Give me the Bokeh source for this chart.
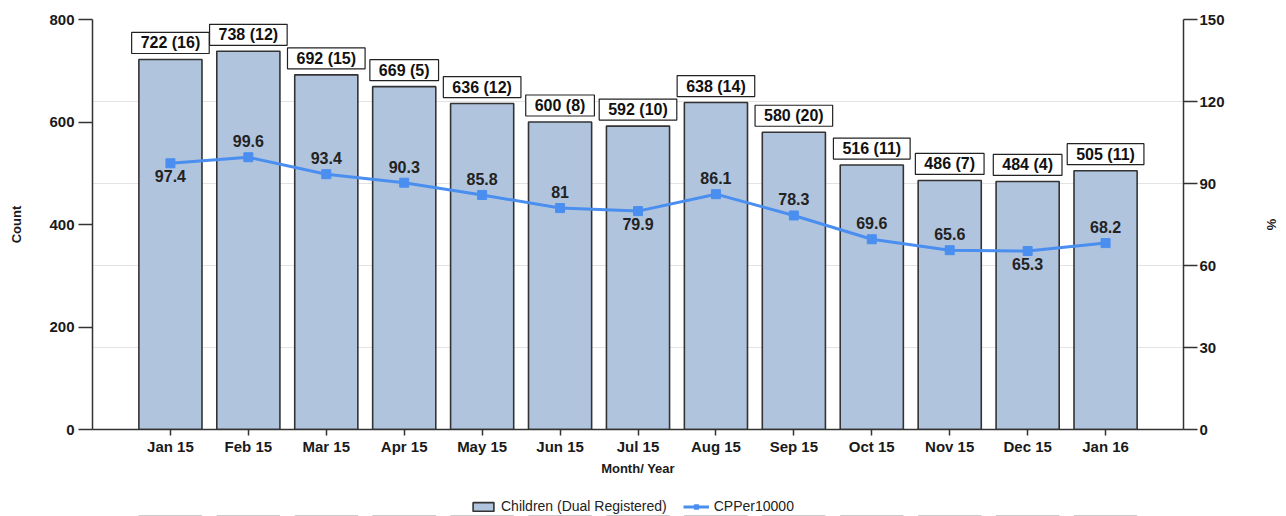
from bokeh.plotting import figure
from bokeh.layouts import column
from bokeh.models import (Range1d, LinearAxis, FixedTicker, ColumnDataSource, LabelSet,
                          Legend, LegendItem)
from bokeh.embed import file_html
from bokeh.resources import INLINE
from bokeh.core.properties import value

months = ["Jan 15", "Feb 15", "Mar 15", "Apr 15", "May 15", "Jun 15", "Jul 15",
          "Aug 15", "Sep 15", "Oct 15", "Nov 15", "Dec 15", "Jan 16"]
counts = [722, 738, 692, 669, 636, 600, 592, 638, 580, 516, 486, 484, 505]
extra = [16, 12, 15, 5, 12, 8, 10, 14, 20, 11, 7, 4, 11]
rates = [97.4, 99.6, 93.4, 90.3, 85.8, 81, 79.9, 86.1, 78.3, 69.6, 65.6, 65.3, 68.2]
rate_below = [True, False, False, False, False, False, True, False, False, False, False, True, False]
count_ticks = [0, 200, 400, 600, 800]
pct_ticks = [0, 30, 60, 90, 120, 150]
series_names = ["Children (Dual Registered)", "CPPer10000"]

FONT = "Liberation Sans"
BAR_FILL = "#b0c4de"
BAR_LINE = "#333333"
LINE_COL = "#4a8ef0"
n = len(months)
xs = list(range(1, n + 1))

src = ColumnDataSource(dict(
    x=xs, count=counts,
    clabel=[f"{c} ({e})" for c, e in zip(counts, extra)],
    rate=rates,
))
above = [i for i in range(n) if not rate_below[i]]
below = [i for i in range(n) if rate_below[i]]
src_above = ColumnDataSource(dict(x=[xs[i] for i in above], rate=[rates[i] for i in above],
                                  rlabel=[f"{rates[i]:g}" for i in above]))
src_below = ColumnDataSource(dict(x=[xs[i] for i in below], rate=[rates[i] for i in below],
                                  rlabel=[f"{rates[i]:g}" for i in below]))

p = figure(width=1286, height=490, output_backend="svg", toolbar_location=None,
           x_range=Range1d(0, n + 1), y_range=Range1d(0, 800),
           min_border_left=92, min_border_right=103, min_border_top=19, min_border_bottom=61)
p.outline_line_color = None
p.extra_y_ranges = {"pct": Range1d(0, 150)}

# grid aligned to right-axis ticks
p.xgrid.visible = False
p.ygrid.ticker = FixedTicker(ticks=[t * 800 / 150 for t in pct_ticks])
p.ygrid.grid_line_color = "#e3e3e3"
p.ygrid.grid_line_width = 1

p.vbar(x="x", top="count", width=0.81, source=src, fill_color=BAR_FILL,
       line_color=BAR_LINE, line_width=1.6)
p.line(x="x", y="rate", source=src, y_range_name="pct", line_color=LINE_COL, line_width=3)
p.scatter(x="x", y="rate", source=src, y_range_name="pct", marker="square",
          size=9, fill_color=LINE_COL, line_color=LINE_COL)

# axes
xa = p.xaxis[0]
xa.ticker = FixedTicker(ticks=xs)
xa.major_label_overrides = {x: m for x, m in zip(xs, months)}
xa.axis_label = "Month/ Year"

ya = p.yaxis[0]
ya.ticker = FixedTicker(ticks=count_ticks)
ya.axis_label = "Count"

ra = LinearAxis(y_range_name="pct", ticker=FixedTicker(ticks=pct_ticks), axis_label="%")
p.add_layout(ra, "right")

for ax in [xa, ya, ra]:
    ax.axis_line_color = "#333333"
    ax.axis_line_width = 1.5
    ax.major_tick_line_color = "#333333"
    ax.major_tick_line_width = 1.5
    ax.minor_tick_line_color = None
    ax.major_tick_in = 0
    ax.major_label_text_font = FONT
    ax.major_label_text_font_style = "bold"
    ax.major_label_text_font_size = "15px"
    ax.major_label_text_color = "#1a1a1a"
    ax.axis_label_text_font = FONT
    ax.axis_label_text_font_style = "bold"
    ax.axis_label_text_font_size = "13px"
    ax.axis_label_text_color = "#1a1a1a"

xa.major_tick_out = 6
xa.major_label_standoff = 2
xa.axis_label_standoff = 3
ya.major_tick_out = 14
ya.major_label_standoff = 4
ya.axis_label_standoff = 22
ra.major_tick_out = 14
ra.major_label_standoff = 2
ra.axis_label_standoff = 36

# bar labels (boxed)
p.text(x="x", y="count", text="clabel", source=src, text_align="center",
       text_baseline="bottom", y_offset=-6, text_font=value(FONT),
       text_font_style="bold", text_font_size="16px", text_color="#111111",
       background_fill_color="white", border_line_color="#222222",
       border_line_width=1.2, padding=(9, 2))

la = LabelSet(x="x", y="rate", text="rlabel", source=src_above, y_range_name="pct",
              text_align="center", text_baseline="bottom", y_offset=10,
              text_font=value(FONT), text_font_style="bold", text_font_size="16px",
              text_color="#222222")
lb = LabelSet(x="x", y="rate", text="rlabel", source=src_below, y_range_name="pct",
              text_align="center", text_baseline="top", y_offset=-7,
              text_font=value(FONT), text_font_style="bold", text_font_size="16px",
              text_color="#222222")
p.add_layout(la)
p.add_layout(lb)

# legend strip below the chart (its glyph renderers lie far outside its visible y-range)
lg = figure(width=1286, height=26, output_backend="svg", toolbar_location=None,
            x_axis_type=None, y_axis_type=None, x_range=p.x_range, y_range=Range1d(2000, 2001),
            min_border_left=0, min_border_right=0, min_border_top=0, min_border_bottom=0)
lg.outline_line_color = None
lg.grid.visible = False
r_bar = lg.vbar(x="x", top="count", width=0.81, source=src, fill_color=BAR_FILL,
                line_color=BAR_LINE, line_width=1.6)
r_line = lg.line(x="x", y="rate", source=src, line_color=LINE_COL, line_width=3)
r_pts = lg.scatter(x="x", y="rate", source=src, marker="square", size=6,
                   fill_color=LINE_COL, line_color=LINE_COL)

legend = Legend(items=[LegendItem(label=series_names[0], renderers=[r_bar]),
                       LegendItem(label=series_names[1], renderers=[r_line, r_pts])],
                orientation="horizontal", location=(378, 2),
                label_text_font=FONT, label_text_font_size="14px",
                label_text_color="#222222", background_fill_alpha=0,
                border_line_color=None, glyph_width=26, glyph_height=11,
                spacing=16, padding=0, margin=0, label_standoff=5)
lg.add_layout(legend)

layout = column(p, lg, spacing=0)
open("out.html", "w").write(file_html(layout, INLINE))
